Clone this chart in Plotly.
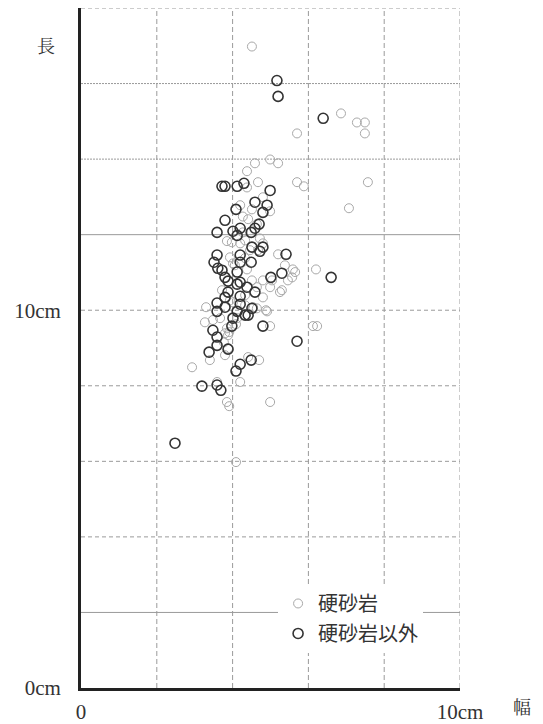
import plotly.graph_objects as go

# 硬砂岩以外 (dark circles): width (cm), length (cm)
other_w = [5.17, 5.20, 6.39, 3.72, 3.80, 4.12, 4.30, 4.99, 4.59, 4.91, 4.80, 4.09, 3.80, 3.59,
           4.01, 4.20, 4.12, 4.49, 4.59, 4.70, 4.51, 4.72, 4.80, 5.41, 3.59, 4.20, 3.51, 4.20,
           4.49, 3.61, 3.72, 4.12, 5.30, 5.01, 3.80, 3.88, 4.20, 4.12, 4.38, 4.59, 3.88, 4.20,
           3.80, 3.59, 3.80, 4.20, 4.12, 4.51, 3.59, 4.33, 4.41, 4.01, 3.98, 4.80, 3.48, 3.59,
           3.59, 3.88, 5.70, 3.38, 4.20, 4.49, 4.09, 3.19, 3.59, 3.69, 2.48, 6.60]
other_l = [16.08, 15.66, 15.08, 13.28, 13.28, 13.28, 13.36, 13.17, 12.86, 12.78, 12.59, 12.67,
           12.38, 12.06, 12.09, 12.17, 11.98, 12.06, 12.17, 12.28, 11.67, 11.56, 11.67, 11.48,
           11.46, 11.46, 11.27, 11.27, 11.27, 11.11, 11.06, 11.01, 10.98, 10.87, 10.87, 10.77,
           10.74, 10.69, 10.61, 10.48, 10.48, 10.37, 10.34, 10.19, 10.08, 10.16, 9.97, 10.05,
           9.97, 9.87, 9.87, 9.79, 9.58, 9.58, 9.47, 9.29, 9.07, 8.97, 9.18, 8.89, 8.57, 8.68,
           8.39, 7.99, 8.02, 7.88, 6.48, 10.87]

# 硬砂岩 (light circles): width (cm), length (cm)
sand_w = [4.51, 6.86, 7.28, 7.49, 7.49, 5.70, 4.99, 5.20, 4.59, 4.38, 4.67, 4.38, 5.70, 5.88,
          7.57, 7.07, 4.80, 4.20, 4.51, 4.99, 4.27, 4.41, 4.64, 3.85, 3.98, 4.33, 4.72, 4.80,
          4.20, 4.67, 5.20, 3.93, 4.01, 4.33, 5.38, 5.59, 6.20, 5.57, 5.46, 5.30, 5.04, 4.99,
          4.80, 4.51, 4.38, 4.64, 5.65, 5.25, 4.80, 4.33, 3.30, 3.27, 3.48, 3.67, 4.01, 4.54,
          4.88, 3.85, 3.88, 3.77, 3.80, 4.99, 2.93, 3.40, 3.88, 4.41, 4.70, 4.20, 3.59, 4.09,
          4.12, 4.91, 4.64, 4.33, 6.12, 6.23, 3.85, 3.91, 4.99, 4.09, 3.80, 3.91, 3.72, 3.93,
          4.06, 4.46, 4.27]
sand_l = [16.98, 15.21, 14.97, 14.97, 14.68, 14.68, 13.99, 13.89, 13.89, 13.68, 13.39, 13.25,
          13.39, 13.28, 13.39, 12.70, 12.99, 12.78, 12.67, 12.62, 12.48, 12.41, 12.28, 11.83,
          11.80, 11.85, 11.90, 11.77, 11.77, 11.59, 11.48, 11.40, 11.24, 11.38, 11.19, 11.08,
          11.08, 10.87, 10.79, 10.53, 10.79, 10.61, 10.79, 10.79, 11.08, 10.61, 11.01, 10.48,
          10.34, 10.40, 10.08, 9.68, 9.74, 9.79, 10.21, 10.08, 10.00, 9.52, 9.34, 9.15, 8.81,
          9.58, 8.49, 8.68, 8.99, 8.76, 8.68, 8.10, 8.10, 9.63, 9.79, 9.97, 10.05, 10.13, 9.58,
          9.58, 7.57, 7.46, 7.57, 5.98, 9.39, 9.42, 10.53, 10.26, 11.19, 11.59, 12.06]

series_names = ["硬砂岩", "硬砂岩以外"]
x_ticks = [0, 10]
x_tick_text = ["0", "10cm"]
y_ticks = [0, 10]
y_tick_text = ["0cm", "10cm"]

fig = go.Figure()
fig.add_trace(go.Scatter(
    x=sand_w, y=sand_l, mode="markers", name=series_names[0], legendgroup="a",
    marker=dict(symbol="circle-open", size=9, color="#a8a8a8", line=dict(width=1, color="#a8a8a8")),
))
fig.add_trace(go.Scatter(
    x=other_w, y=other_l, mode="markers", name=series_names[1], legendgroup="b",
    marker=dict(symbol="circle-open", size=10, color="#333333", line=dict(width=1.6, color="#333333")),
))

grid_col = "#9a9a9a"
shapes = []
# vertical grid lines (dashed)
for xv in [2, 4, 6, 8, 10]:
    shapes.append(dict(type="line", xref="x", yref="y", x0=xv, x1=xv, y0=0, y1=18,
                       line=dict(color=grid_col, width=1, dash="5px,3px"), layer="below"))
# horizontal grid lines
hstyles = {2: "solid", 4: "4px,3px", 6: "4px,3px", 8: "4px,3px", 10: "4px,3px", 12: "solid",
           14: "2px,1px", 16: "2px,1px", 18: "4px,3px"}
for yv, ds in hstyles.items():
    shapes.append(dict(type="line", xref="x", yref="y", x0=0, x1=10, y0=yv, y1=yv,
                       line=dict(color=grid_col, width=1, dash=ds), layer="below"))

tick_font = dict(family="Liberation Serif, Noto Sans CJK JP", size=21, color="#333333")
label_font = dict(family="Noto Serif CJK JP, Noto Sans CJK JP", size=18, color="#333333")

fig.update_layout(
    width=535, height=716,
    margin=dict(l=73, r=83, t=0, b=36),
    paper_bgcolor="white", plot_bgcolor="white",
    shapes=shapes,
    showlegend=True,
    legend=dict(x=0.52, y=0.153, xanchor="left", yanchor="top", bgcolor="white",
                font=dict(family="Noto Sans CJK JP", size=20, color="#333333"),
                tracegroupgap=1, traceorder="grouped", itemsizing="trace"),
    xaxis=dict(range=[0, 10], showgrid=False, zeroline=False, tickvals=x_ticks,
               ticktext=x_tick_text, tickfont=tick_font, ticks="", ticklabelstandoff=3,
               automargin=False,
               showline=True, linecolor="#222222", linewidth=3, fixedrange=True),
    yaxis=dict(range=[0, 18], showgrid=False, zeroline=False, tickvals=y_ticks,
               ticktext=y_tick_text, tickfont=tick_font, ticks="", ticklabelstandoff=13,
               automargin=False,
               showline=True, linecolor="#222222", linewidth=3, fixedrange=True),
    annotations=[
        dict(text="長", xref="paper", yref="paper", x=-0.092, y=0.9456, showarrow=False,
             xanchor="center", yanchor="middle", font=label_font),
        dict(text="幅", xref="paper", yref="paper", x=1.1636, y=-0.0265, showarrow=False,
             xanchor="center", yanchor="middle", font=label_font),
    ],
)

fig.write_html("out.html")
